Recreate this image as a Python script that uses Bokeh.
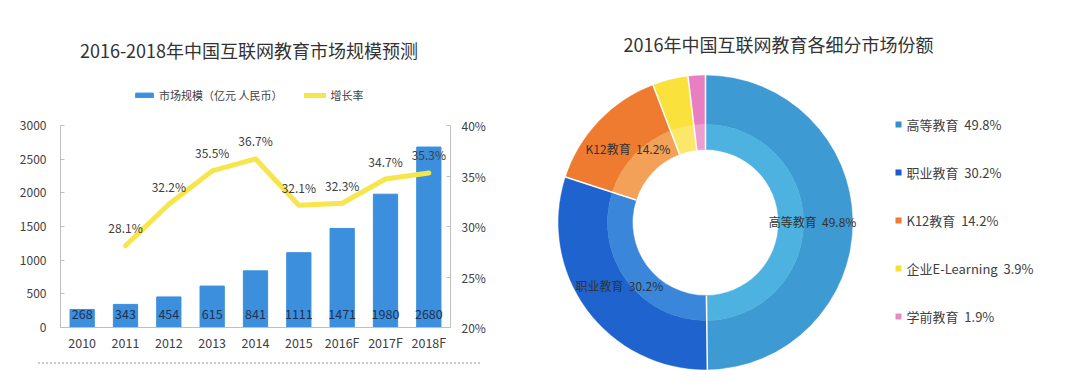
import math
from bokeh.plotting import figure
from bokeh.models import (Range1d, LinearAxis, FixedTicker, PrintfTickFormatter,
                          FactorRange, Legend, LegendItem, Div)
from bokeh.layouts import row, column
from bokeh.core.properties import value
from bokeh.embed import file_html
from bokeh.resources import INLINE

# ---------------- data ----------------
years = ["2010", "2011", "2012", "2013", "2014", "2015", "2016F", "2017F", "2018F"]
market_size = [268, 343, 454, 615, 841, 1111, 1471, 1980, 2680]
growth_years = ["2011", "2012", "2013", "2014", "2015", "2016F", "2017F", "2018F"]
growth_rate = [28.1, 32.2, 35.5, 36.7, 32.1, 32.3, 34.7, 35.3]
left_ticks = [0, 500, 1000, 1500, 2000, 2500, 3000]
right_ticks = [20, 25, 30, 35, 40]

segments = ["高等教育", "职业教育", "K12教育", "企业E-Learning", "学前教育"]
shares = [49.8, 30.2, 14.2, 3.9, 1.9]

left_title = "2016-2018年中国互联网教育市场规模预测"
right_title = "2016年中国互联网教育各细分市场份额"
bar_legend = "市场规模（亿元 人民币）"
line_legend = "增长率"

# ---------------- styles ----------------
FONT = "Noto Sans CJK SC"
BAR_COLOR = "#3C8FDC"
LINE_COLOR = "#F6E54B"
TEXT = "#404040"
AXIS = "#bfbfbf"
SP = "\u00a0\u00a0"
outer_colors = ["#3E9AD3", "#1F63CE", "#EE7B30", "#FBE13C", "#E77FC0"]
inner_colors = ["#4EB2E0", "#3A86DA", "#F3A058", "#FBE86A", "#EE9DD0"]
legend_colors = ["#3A8FCB", "#1E5BC8", "#EE7B30", "#F5E03A", "#E88AC0"]

# ---------------- left chart ----------------
W1 = 540
FRAME_H = 327
FRAME_W = 390
px_per = 202 / 3000.0
ymax = FRAME_H / px_per
pct_max = 20 + ymax * 20 / 3000.0

def yv(page_y):
    return (FRAME_H - page_y) / px_per

p = figure(frame_width=FRAME_W, frame_height=FRAME_H,
           x_range=FactorRange(*years, range_padding=0),
           y_range=Range1d(0, ymax), output_backend="svg", toolbar_location=None,
           min_border_left=60, min_border_right=W1 - 60 - FRAME_W, min_border_top=0,
           min_border_bottom=20)
p.outline_line_color = None
p.xgrid.visible = False
p.ygrid.visible = False
p.extra_y_ranges = {"pct": Range1d(20, pct_max)}

ya = p.yaxis[0]
ya.ticker = FixedTicker(ticks=left_ticks)
ya.bounds = (0, 3000)
ya.axis_line_color = AXIS
ya.major_tick_line_color = AXIS
ya.major_tick_in = 4
ya.major_tick_out = 0
ya.minor_tick_line_color = None
ya.major_label_standoff = 14
ya.major_label_text_font = FONT
ya.major_label_text_font_size = "12px"
ya.major_label_text_color = TEXT

ra = LinearAxis(y_range_name="pct", ticker=FixedTicker(ticks=right_ticks),
                formatter=PrintfTickFormatter(format="%d%%"))
ra.bounds = (20, 40)
ra.axis_line_color = AXIS
ra.major_tick_line_color = AXIS
ra.major_tick_in = 4
ra.major_tick_out = 0
ra.minor_tick_line_color = None
ra.major_label_standoff = 11
ra.major_label_text_font = FONT
ra.major_label_text_font_size = "12px"
ra.major_label_text_color = TEXT
p.add_layout(ra, "right")

xa = p.xaxis[0]
xa.axis_line_color = AXIS
xa.major_tick_line_color = None
xa.major_tick_out = 0
xa.major_tick_in = 0
xa.major_label_standoff = 5
xa.axis_label_standoff = 0
xa.major_label_text_font = FONT
xa.major_label_text_font_size = "12.5px"
xa.major_label_text_color = TEXT

bars = p.vbar(x=years, top=market_size, width=0.56, color=BAR_COLOR)
p.text(x=years, y=[0] * len(years), text=[str(v) for v in market_size],
       y_offset=-14, text_align="center", text_baseline="middle",
       text_font=value(FONT), text_font_size="12.5px", text_color="#1d3253")

line = p.line(x=growth_years, y=growth_rate, y_range_name="pct",
              line_width=5, line_color=LINE_COLOR, line_join="round", line_cap="round")
p.text(x=growth_years, y=growth_rate, y_range_name="pct",
       text=["%.1f%%" % v for v in growth_rate], y_offset=-18,
       text_align="center", text_baseline="middle",
       text_font=value(FONT), text_font_size="12px", text_color=TEXT)

p.text(x=[4.35], y=[yv(49)], text=[left_title], text_align="center",
       text_baseline="middle", text_font=value(FONT), text_font_size="18px",
       text_color="#333333")

leg = Legend(items=[LegendItem(label=bar_legend, renderers=[bars]),
                    LegendItem(label=line_legend, renderers=[line])],
             orientation="horizontal", location=(73, FRAME_H - 95 - 10),
             glyph_width=22, glyph_height=6, label_height=20,
             label_text_font=FONT, label_text_font_size="11px",
             label_text_color=TEXT, spacing=22, padding=0, margin=0,
             label_standoff=4, border_line_color=None,
             background_fill_alpha=0)
p.add_layout(leg)

div = Div(width=480, height=14, styles={"margin-top": "-2px"},
          text='<div style="margin-left:33px;margin-top:0px;width:442px;'
               'border-top:2px dotted #cccccc;height:0"></div>')

# ---------------- right chart ----------------
W2, H2 = 532, 383
q = figure(width=W2, height=H2, x_range=Range1d(0, W2), y_range=Range1d(0, H2),
           output_backend="svg", toolbar_location=None, min_border=0)
q.axis.visible = False
q.grid.visible = False
q.outline_line_color = None

cx, cy = 165, 161
R_OUT, R_MID, R_IN = 147, 98, 73
total = sum(shares)
starts, ends, mids = [], [], []
cum = 0.0
for s in shares:
    a0 = math.pi / 2 - 2 * math.pi * cum / total
    cum += s
    a1 = math.pi / 2 - 2 * math.pi * cum / total
    starts.append(a0)
    ends.append(a1)
    mids.append((a0 + a1) / 2)

q.annular_wedge(x=cx, y=cy, inner_radius=R_MID, outer_radius=R_OUT,
                start_angle=starts, end_angle=ends, direction="clock",
                fill_color=outer_colors, line_color=outer_colors, line_width=0.5)
q.annular_wedge(x=cx, y=cy, inner_radius=R_IN, outer_radius=R_MID,
                start_angle=starts, end_angle=ends, direction="clock",
                fill_color=inner_colors, line_color=inner_colors, line_width=0.5)
q.segment(x0=[cx + R_IN * math.cos(a) for a in starts],
          y0=[cy + R_IN * math.sin(a) for a in starts],
          x1=[cx + (R_OUT + 1) * math.cos(a) for a in starts],
          y1=[cy + (R_OUT + 1) * math.sin(a) for a in starts],
          line_color="white", line_width=1.5)

R_LAB = 107
lab_idx = [0, 1, 2]
q.text(x=[cx + R_LAB * math.cos(mids[i]) for i in lab_idx],
       y=[cy + R_LAB * math.sin(mids[i]) for i in lab_idx],
       text=["%s%s%.1f%%" % (segments[i], SP, shares[i]) for i in lab_idx],
       text_align="center", text_baseline="middle", text_font=value(FONT),
       text_font_size="12px", text_color="#333333")

q.text(x=[238], y=[H2 - 43], text=[right_title], text_align="center",
       text_baseline="middle", text_font=value(FONT), text_font_size="18px",
       text_color="#333333")

leg_y = [H2 - 124 - 48 * i for i in range(len(segments))]
q.scatter(x=[358] * len(segments), y=leg_y, marker="square", size=6,
          fill_color=legend_colors, line_color=None)
q.text(x=[366] * len(segments), y=leg_y,
       text=["%s%s%.1f%%" % (n, SP, s) for n, s in zip(segments, shares)],
       text_align="left", text_baseline="middle", text_font=value(FONT),
       text_font_size="13px", text_color=TEXT)

layout = row(column(p, div), q)
open("out.html", "w").write(file_html(layout, INLINE))
